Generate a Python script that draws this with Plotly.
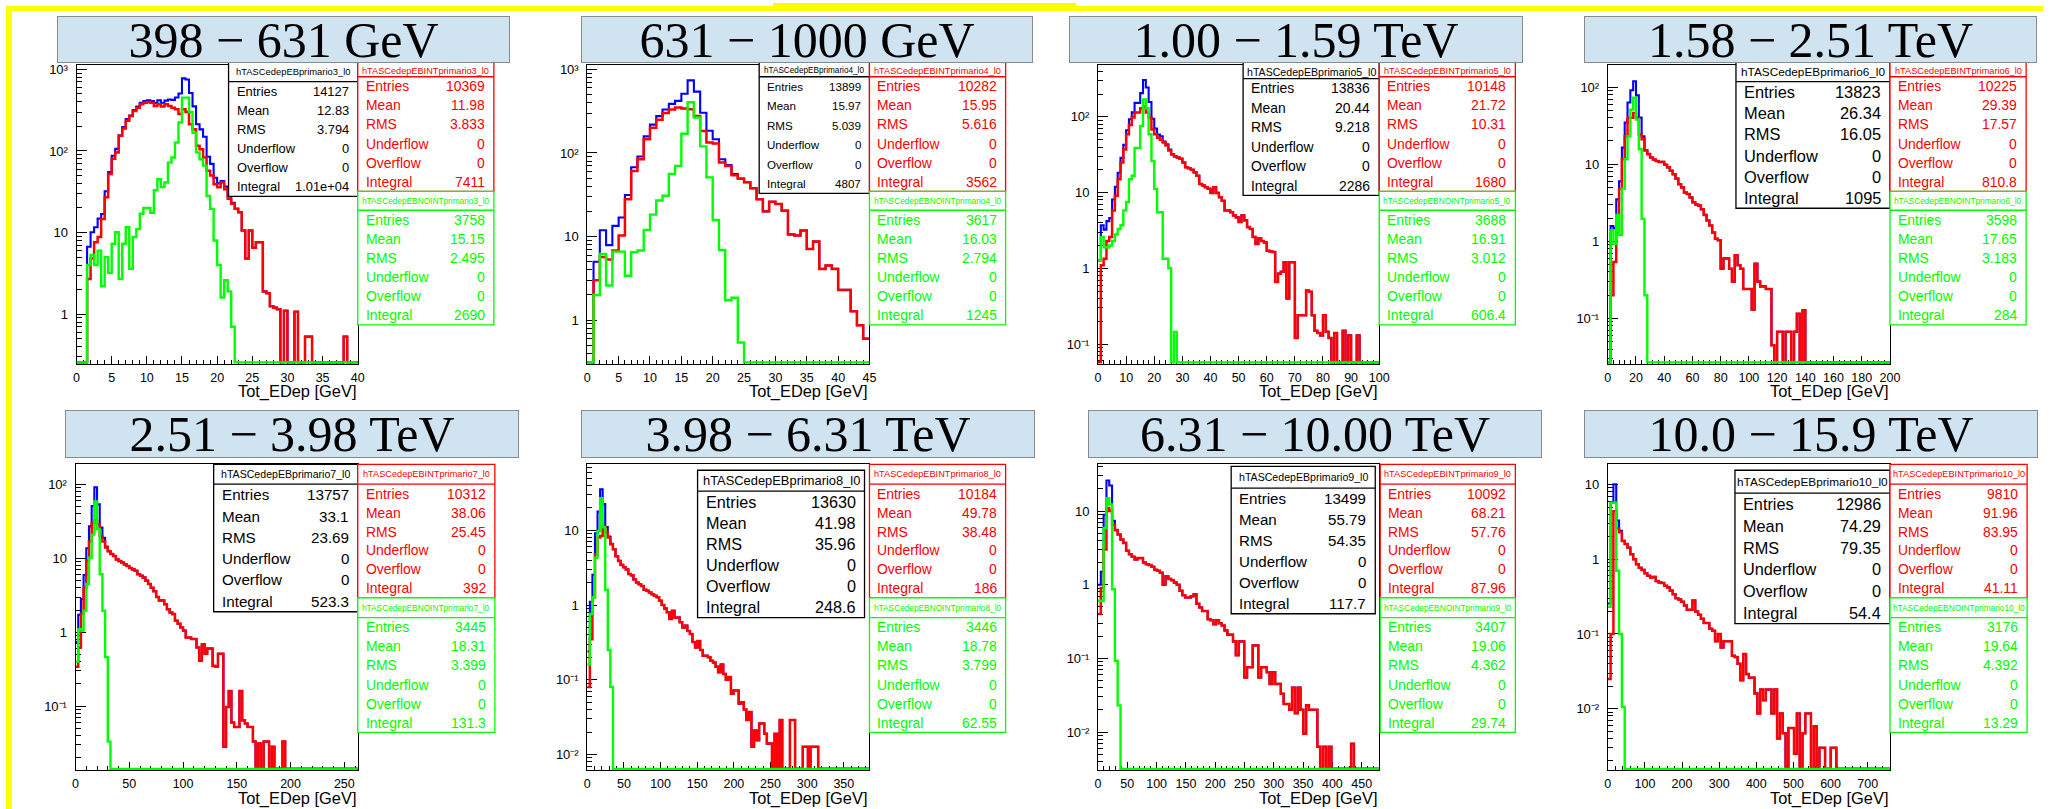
import plotly.graph_objects as go

W, H = 2053, 809

# ---------------------------------------------------------------- data
energy_ranges = ["398 − 631 GeV", "631 − 1000 GeV", "1.00 − 1.59 TeV", "1.58 − 2.51 TeV",
                 "2.51 − 3.98 TeV", "3.98 − 6.31 TeV", "6.31 − 10.00 TeV", "10.0 − 15.9 TeV"]
primary_index = [3, 4, 5, 6, 7, 8, 9, 10]
edep_max = [40, 45, 100, 200, 262.5, 385, 480, 760]      # GeV, upper edge of each histogram
bin_width = [0.5, 1, 1, 2, 2.5, 3.5, 4.8, 7.6]           # GeV

# bin contents, interacting (INT) and non-interacting (NOINT) events; trailing bins are empty
int_p1 = [0, 0, 0, 2.7, 4.8, 7.6, 8.8, 14.7, 27, 52,
          80, 96, 153, 189, 234, 268, 309, 339, 373, 390,
          397, 390, 355, 373, 350, 373, 355, 339, 325, 283,
          325, 300, 212, 185, 116, 105, 83, 57, 50, 39,
          36, 41, 34, 26, 22.5, 19.5, 17.7, 10.6, 4.8, 10.6,
          6.5, 7.6, 7.6, 1.9, 1.8, 1.25, 1.2, 1.15, 0, 1.1,
          0, 0, 1.07, 0, 0, 0.53, 0.53, 0, 0, 0,
          0, 0, 0, 0, 0, 0, 0.53]
noint_p1 = [0, 0, 0, 4.0, 5.3, 4.0, 6.0, 2.2, 5.0, 3.2,
            7.3, 10.1, 2.7, 7.3, 11.6, 3.6, 8.8, 11, 17, 20,
            20, 17.5, 33, 45, 36, 41, 72, 83, 127, 223,
            450, 450, 300, 167, 96, 79, 66, 28, 19.5, 8,
            4, 1.6, 2.6, 1.9, 0.7]

int_p2 = [0, 3.0, 5.7, 5.3, 6.8, 10.3, 28, 61, 84, 146,
          200, 249, 300, 330, 350, 340, 333, 277, 183, 133,
          130, 77, 70, 54, 49, 44.6, 37.8, 28, 20, 26,
          24.5, 20.4, 10.6, 10.3, 11.8, 7.1, 8.7, 4.1, 4.5, 4.1,
          2.3, 2.3, 1.28, 0.87, 0.6]
noint_p2 = [0, 2.0, 6.2, 2.6, 6.6, 6.6, 3.4, 6.5, 6.8, 12,
            18.3, 27, 30.8, 56, 70, 170, 405, 265, 120, 51,
            15.8, 6.9, 1.73, 1.85, 0.54]

int_p3 = [0, 1.1, 1.34, 2.3, 2.6, 5.8, 9.1, 15, 25, 37,
          59, 78, 98, 114, 114, 130, 137, 114, 98, 68,
          59, 53, 50, 46, 42, 36, 32, 30, 29, 28,
          25, 21.6, 21, 20, 18.5, 16.7, 13, 12.4, 11.8, 11.2,
          9.9, 11.8, 9.9, 8.7, 7.8, 5.8, 5.8, 5.5, 5.0, 4.7,
          4.1, 5.0, 4.3, 3.5, 3.3, 2.6, 2.1, 2.5, 2.3, 2.2,
          1.7, 1.67, 1.64, 0.66, 0.85, 0.9, 1.2, 0.4, 1.2, 1.2,
          0.12, 0.24, 0.24, 0.24, 0.51, 0.49, 0.24, 0.15, 0.14, 0.13,
          0.24, 0.145, 0.12, 0, 0.14, 0, 0, 0.15, 0, 0.13,
          0, 0, 0.13]
noint_p3 = [1.27, 2.6, 1.9, 1.9, 2.0, 2.3, 2.8, 3.3, 3.7, 5.8,
            7.5, 15, 16.7, 39, 39, 76, 170, 130, 59, 26,
            11.2, 5.5, 5.5, 1.34, 1.34, 1.0, 0, 0.145]

int_p4 = [0, 0.2, 0.54, 1.3, 4.8, 11.6, 23, 40, 40, 46,
          40, 24.5, 21, 15, 13.5, 12.2, 11.5, 11, 10.7, 10.7,
          9.8, 9.1, 8.2, 7.4, 6.5, 5.5, 5.0, 4.3, 4.1, 3.7,
          3.2, 3.0, 2.9, 2.6, 2.2, 1.86, 1.6, 1.3, 1.08, 1.03,
          0.44, 0.6, 0.6, 0.44, 0.3, 0.66, 0.49, 0.44, 0.24, 0.24,
          0.24, 0.13, 0.51, 0.3, 0.26, 0.26, 0.24, 0.24, 0.045, 0,
          0.067, 0.067, 0, 0.067, 0.067, 0, 0.067, 0.115, 0, 0.128]
noint_p4 = [0, 1.38, 0.93, 2.2, 1.2, 4.8, 11.6, 23, 51, 73,
            38, 15.6, 1.95, 0.2]

int_p5 = [0.34, 0.62, 1.76, 4.0, 9.2, 17, 30, 33, 29, 20,
          17, 14, 12.5, 11.5, 10.8, 9.7, 9.2, 8.8, 8.3, 7.9,
          7.4, 7.1, 6.8, 6.1, 5.8, 5.5, 5.0, 4.5, 4.0, 3.6,
          3.0, 2.7, 2.7, 2.4, 2.05, 1.85, 1.76, 1.43, 1.3, 1.16,
          1.05, 0.85, 0.85, 0.81, 0.81, 0.62, 0.41, 0.69, 0.51, 0.6,
          0.6, 0.35, 0.34, 0.51, 0.51, 0.028, 0.097, 0.16, 0.06, 0.052,
          0.052, 0.16, 0.064, 0.058, 0.052, 0.052, 0.033, 0, 0.031, 0,
          0.033, 0.033, 0, 0.028, 0, 0, 0, 0.033]
noint_p5 = [0.4, 1.1, 1.05, 1.95, 4.5, 10.2, 21, 59, 25, 6.1,
            1.95, 0.46, 0.033]

int_p6 = [0.08, 0.35, 1.27, 4.8, 8, 8.4, 11.4, 9.5, 8.0, 6.5,
          5.6, 4.5, 3.9, 3.45, 3.2, 3.0, 2.6, 2.5, 2.2, 2.0,
          1.9, 1.8, 1.6, 1.55, 1.47, 1.4, 1.33, 1.27, 1.14, 1.0,
          0.9, 0.8, 0.65, 0.84, 0.68, 0.68, 0.59, 0.5, 0.53, 0.45,
          0.41, 0.32, 0.27, 0.33, 0.25, 0.21, 0.21, 0.2, 0.18, 0.17,
          0.15, 0.126, 0.16, 0.12, 0.1, 0.109, 0.065, 0.072, 0.072, 0.048,
          0.05, 0.04, 0.029, 0.037, 0.0127, 0.021, 0.0155, 0.026, 0.026, 0.019,
          0.014, 0.014, 0, 0.019, 0, 0.029, 0, 0, 0, 0.029,
          0.029, 0, 0, 0, 0.0127, 0.0127, 0, 0.0127, 0.0127, 0.0127]
noint_p6 = [0.16, 0.76, 1.27, 4.3, 9.8, 27, 11, 1.6, 0.25, 0.08]

int_p7 = [0.4, 0.9, 3, 11, 10, 6.5, 5.5, 4.8, 4.1, 3.7,
          2.9, 2.6, 2.4, 2.2, 2.3, 2.3, 2.0, 1.9, 1.85, 1.75,
          1.6, 1.55, 1.45, 1.0, 1.3, 1.2, 1.15, 1.07, 1.0, 0.83,
          0.72, 0.67, 0.67, 0.7, 0.74, 0.55, 0.49, 0.44, 0.44, 0.34,
          0.33, 0.29, 0.33, 0.3, 0.28, 0.24, 0.21, 0.21, 0.17, 0.11,
          0.17, 0.17, 0.055, 0.076, 0.076, 0.15, 0.15, 0.055, 0.076, 0.076,
          0.065, 0.045, 0.065, 0.045, 0.045, 0.033, 0.024, 0.024, 0.02, 0.04,
          0.018, 0.04, 0.02, 0.0095, 0.023, 0.02, 0.02, 0.02, 0.0063, 0,
          0.0063, 0, 0.0063, 0, 0, 0, 0, 0, 0, 0,
          0.0069]
noint_p7 = [0.6, 0.6, 5.9, 15, 12.3, 0.87, 0.093, 0.023]

int_p8 = [0.025, 0.1, 4.4, 2.6, 2.3, 1.75, 1.6, 1.43, 1.17, 1.0,
          0.86, 0.77, 0.72, 0.65, 0.6, 0.57, 0.58, 0.51, 0.49, 0.48,
          0.44, 0.42, 0.38, 0.34, 0.3, 0.29, 0.27, 0.24, 0.21, 0.21,
          0.28, 0.2, 0.18, 0.16, 0.14, 0.14, 0.117, 0.11, 0.08, 0.1,
          0.066, 0.08, 0.08, 0.08, 0.051, 0.049, 0.04, 0.024, 0.054, 0.029,
          0.026, 0.026, 0.016, 0.0086, 0.018, 0.013, 0.018, 0.018, 0.0086, 0.018,
          0.004, 0.0086, 0.0047, 0, 0.0055, 0.0055, 0.0025, 0.0086, 0, 0.0047,
          0.0086, 0.0086, 0, 0.0058, 0, 0.003, 0.003, 0, 0, 0.003,
          0.003]
noint_p8 = [0.23, 5.7, 5.7, 0.7, 0.1, 0.0105]

# statistics printed in the three boxes of every pad
stat_labels = ["Entries", "Mean", "RMS", "Underflow", "Overflow", "Integral"]
stats_all = [["14127", "12.83", "3.794", "0", "0", "1.01e+04"],
             ["13899", "15.97", "5.039", "0", "0", "4807"],
             ["13836", "20.44", "9.218", "0", "0", "2286"],
             ["13823", "26.34", "16.05", "0", "0", "1095"],
             ["13757", "33.1", "23.69", "0", "0", "523.3"],
             ["13630", "41.98", "35.96", "0", "0", "248.6"],
             ["13499", "55.79", "54.35", "0", "0", "117.7"],
             ["12986", "74.29", "79.35", "0", "0", "54.4"]]
stats_int = [["10369", "11.98", "3.833", "0", "0", "7411"],
             ["10282", "15.95", "5.616", "0", "0", "3562"],
             ["10148", "21.72", "10.31", "0", "0", "1680"],
             ["10225", "29.39", "17.57", "0", "0", "810.8"],
             ["10312", "38.06", "25.45", "0", "0", "392"],
             ["10184", "49.78", "38.48", "0", "0", "186"],
             ["10092", "68.21", "57.76", "0", "0", "87.96"],
             ["9810", "91.96", "83.95", "0", "0", "41.11"]]
stats_noint = [["3758", "15.15", "2.495", "0", "0", "2690"],
               ["3617", "16.03", "2.794", "0", "0", "1245"],
               ["3688", "16.91", "3.012", "0", "0", "606.4"],
               ["3598", "17.65", "3.183", "0", "0", "284"],
               ["3445", "18.31", "3.399", "0", "0", "131.3"],
               ["3446", "18.78", "3.799", "0", "0", "62.55"],
               ["3407", "19.06", "4.362", "0", "0", "29.74"],
               ["3176", "19.64", "4.392", "0", "0", "13.29"]]

INT = [int_p1, int_p2, int_p3, int_p4, int_p5, int_p6, int_p7, int_p8]
NOINT = [noint_p1, noint_p2, noint_p3, noint_p4, noint_p5, noint_p6, noint_p7, noint_p8]

# ---------------------------------------------------------------- pad geometry (pixels)
FRAMES = [(74, 357, 62, 362), (588, 872, 62, 362), (1102, 1385, 62, 362), (1615, 1899, 62, 362),
          (73, 357, 463, 770), (588, 872, 463, 770), (1102, 1385, 463, 770), (1615, 1899, 463, 770)]
YLOG = [(-0.607, 3.056), (-0.521, 3.055), (-1.259, 2.688), (-1.587, 2.289),
        (-1.868, 2.275), (-2.209, 1.884), (-2.518, 1.636), (-2.823, 1.271)]
XTICKS = [(5, 1), (5, 1), (10, 2), (20, 4), (50, 10), (50, 10), (50, 10), (100, 20)]
TITLE_BOXES = [(56, 509, 13, 60), (583, 1035, 13, 60), (1074, 1528, 13, 60), (1593, 2046, 13, 60),
               (64, 518, 409, 457), (583, 1037, 409, 457), (1093, 1547, 409, 457), (1593, 2047, 409, 457)]
# (x0, x1, top, separator, bottom, title font, row font, title text centre)
BOX_ALL = [(227, 357, 57, 79, 194, 9.4, 12.9, 69), (761, 872, 54, 74, 191, 8.2, 11.6, 68),
           (1248, 1385, 53, 76, 193, 10.6, 13.9, 69), (1744, 1899, 56, 79, 206, 11.8, 16.4, 69),
           (212, 357, 463, 483, 611, 10.6, 15.2, 473), (699, 867, 469, 490, 617, 12.9, 16.2, 479.5),
           (1236, 1381, 465, 487, 613, 10.6, 15.1, 476), (1743, 1899, 469, 492, 623, 11.8, 16.3, 480.5)]
INT_X = [(357, 494), (872, 1009), (1385, 1522), (1899, 2036),
         (357, 495), (872, 1009), (1386, 1522), (1899, 2037)]
# (top, separator, bottom, title text centre) of the INT and NOINT boxes, top and bottom rows
INT_Y = [(52, 74, 189, 68.5), (463, 483, 597, 473)]
NOINT_Y = [(189, 208, 323, 198.5), (597, 617, 732, 607)]

SANS = "Liberation Sans"
SERIF = "Liberation Serif"
RED, GREEN, BLUE = "#ff0000", "#00ff00", "#0000ff"
SUPERSCRIPT = {"-": "⁻", "1": "¹", "2": "²", "3": "³", "4": "⁴"}


def fx(x):
    return x / W


def fy(y):
    return 1 - y / H


fig = go.Figure()
shapes = []
annotations = []


def text(s, x, y, size, color="black", xanchor="center", family=SANS):
    annotations.append(dict(text=s, x=fx(x), y=fy(y), xref="paper", yref="paper",
                            xanchor=xanchor, yanchor="middle", showarrow=False,
                            font=dict(family=family, size=size, color=color)))


def stat_box(x0, x1, top, sep, bottom, title_y, tsize, rsize, color, title, values):
    shapes.append(dict(type="rect", xref="paper", yref="paper", x0=fx(x0), x1=fx(x1),
                       y0=fy(bottom), y1=fy(top), fillcolor="white",
                       line=dict(color=color, width=1.3), layer="above"))
    shapes.append(dict(type="line", xref="paper", yref="paper", x0=fx(x0), x1=fx(x1),
                       y0=fy(sep), y1=fy(sep), line=dict(color=color, width=1.3), layer="above"))
    text(title, (x0 + x1) / 2, title_y, tsize, color)
    row = (bottom - sep) / 6
    for i, (lab, val) in enumerate(zip(stat_labels, values)):
        yc = sep + row * (i + 0.5)
        text(lab, x0 + 6, yc, rsize, color, "left")
        text(val, x1 - 7, yc, rsize, color, "right")


def decade_label(d):
    if d == 0:
        return "1"
    if d == 1:
        return "10"
    return "10" + "".join(SUPERSCRIPT[c] for c in str(d))


layout = {}
for k in range(8):
    left, right, top, bottom = FRAMES[k]
    ylo, yhi = YLOG[k]
    sfx = "" if k == 0 else str(k + 1)
    xa, ya = "x" + sfx, "y" + sfx

    n = int(round(edep_max[k] / bin_width[k]))
    red = INT[k] + [0] * (n - len(INT[k]))
    green = NOINT[k] + [0] * (n - len(NOINT[k]))
    blue = [r + g for r, g in zip(red, green)]          # total = INT + NOINT

    # empty bins are drawn along the bottom of the frame
    px_per_dec = (bottom - top) / (yhi - ylo)
    floor = 10 ** (ylo + 1.3 / px_per_dec)
    edges = [i * bin_width[k] for i in range(n + 1)]
    for vals, col, lw in ((blue, BLUE, 2.1), (red, RED, 2.5), (green, GREEN, 2.4)):
        ys = [v if v > 0 else floor for v in vals]
        ys.append(ys[-1])
        fig.add_trace(go.Scatter(x=edges, y=ys, mode="lines", xaxis=xa, yaxis=ya,
                                 line=dict(color=col, width=lw, shape="hv"),
                                 showlegend=False, hoverinfo="skip"))

    major, minor = XTICKS[k]
    layout["xaxis" + sfx] = dict(
        domain=[fx(left), fx(right)], range=[0, edep_max[k]], anchor=ya,
        showline=True, mirror=True, linecolor="black", linewidth=1,
        ticks="inside", ticklen=8, tickwidth=1, tickcolor="black",
        tick0=0, dtick=major,
        minor=dict(tick0=0, dtick=minor, ticks="inside", ticklen=4, tickcolor="black", showgrid=False),
        showgrid=False, zeroline=False, layer="below traces", ticklabelstandoff=2,
        tickfont=dict(family=SANS, size=12.5, color="black"), fixedrange=True)

    decs = [d for d in range(-4, 4) if ylo <= d <= yhi]
    minors = [m * 10 ** d for d in range(-4, 4) for m in range(2, 10)]
    layout["yaxis" + sfx] = dict(
        domain=[fy(bottom), fy(top)], type="log", range=[ylo, yhi], anchor=xa,
        showline=True, mirror=True, linecolor="black", linewidth=1,
        ticks="inside", ticklen=10, tickwidth=1, tickcolor="black",
        tickmode="array", tickvals=[10 ** d for d in decs], ticktext=[decade_label(d) for d in decs],
        minor=dict(tickmode="array", tickvals=minors, ticks="inside", ticklen=5,
                   tickcolor="black", showgrid=False),
        showgrid=False, zeroline=False, layer="below traces", ticklabelstandoff=5,
        tickfont=dict(family=SANS, size=13, color="black"), fixedrange=True)

    # axis title
    text("Tot_EDep [GeV]", right, 390 if k < 4 else 798, 16.4, "black", "right")

    # statistics boxes
    idx = primary_index[k]
    bx0, bx1, btop, bsep, bbot, bts, brs, bty = BOX_ALL[k]
    stat_box(bx0, bx1, btop, bsep, bbot, bty, bts, brs, "black",
             "hTASCedepEBprimario%d_l0" % idx, stats_all[k])
    ix0, ix1 = INT_X[k]
    r = 0 if k < 4 else 1
    rt, rs, rb, rty = INT_Y[r]
    gt, gs, gb, gty = NOINT_Y[r]
    stat_box(ix0, ix1, rt, rs, rb, rty, 9.2, 13.9, RED,
             "hTASCedepEBINTprimario%d_l0" % idx, stats_int[k])
    stat_box(ix0, ix1, gt, gs, gb, gty, 8.3, 13.9, GREEN,
             "hTASCedepEBNOINTprimario%d_l0" % idx, stats_noint[k])

# energy-range headers drawn last so they sit on top of everything
for k in range(8):
    x0, x1, t, b = TITLE_BOXES[k]
    annotations.append(dict(text=energy_ranges[k], x=fx((x0 + x1) / 2), y=fy((t + b) / 2),
                            xref="paper", yref="paper", xanchor="center", yanchor="middle",
                            showarrow=False, width=x1 - x0 - 2, height=b - t - 2,
                            bgcolor="#cfe3f0", bordercolor="#8a8a8a", borderwidth=1, borderpad=0,
                            valign="middle", font=dict(family=SERIF, size=50, color="black")))

# yellow frame along the top and left edges
for (x0, x1, y0, y1) in [(3, W, 3, 8), (3, 9, 3, H), (775, 1080, 0, 3)]:
    shapes.append(dict(type="rect", xref="paper", yref="paper", x0=fx(x0), x1=fx(x1),
                       y0=fy(y1), y1=fy(y0), fillcolor="#ffff00", line=dict(width=0), layer="above"))

fig.update_layout(width=W, height=H, margin=dict(l=0, r=0, t=0, b=0),
                  paper_bgcolor="white", plot_bgcolor="white",
                  shapes=shapes, annotations=annotations, **layout)
fig.write_html("out.html", config={"displayModeBar": False})
